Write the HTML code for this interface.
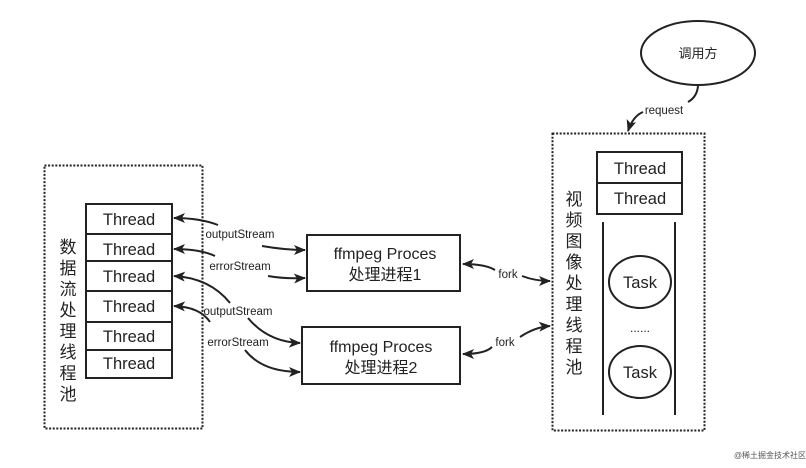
<!DOCTYPE html>
<html><head><meta charset="utf-8"><style>
html,body{margin:0;padding:0;background:#fff;}
svg{display:block;font-family:"Liberation Sans","Noto Sans CJK SC",sans-serif;}
</style></head><body>
<svg width="806" height="468" viewBox="0 0 806 468" xmlns="http://www.w3.org/2000/svg">
<defs>
<marker id="a" markerWidth="12" markerHeight="10" refX="11" refY="5" orient="auto" markerUnits="userSpaceOnUse">
<path d="M0,0 L12,5 L0,10 L3,5 Z" fill="#222"/></marker>
</defs>
<rect width="806" height="468" fill="#fff"/>
<rect x="44.5" y="165.5" width="158" height="263" fill="none" stroke="#222" stroke-width="2" stroke-dasharray="2,1.6"/>
<g fill="#fff" stroke="#222" stroke-width="2">
<rect x="86" y="204" width="86" height="30"/>
<rect x="86" y="234" width="86" height="27"/>
<rect x="86" y="261" width="86" height="30"/>
<rect x="86" y="291" width="86" height="31"/>
<rect x="86" y="322" width="86" height="28"/>
<rect x="86" y="350" width="86" height="28"/>
</g>
<g font-size="16.5" fill="#222" text-anchor="middle">
<text x="129" y="225">Thread</text>
<text x="129" y="255">Thread</text>
<text x="129" y="282">Thread</text>
<text x="129" y="312">Thread</text>
<text x="129" y="342">Thread</text>
<text x="129" y="369">Thread</text>
</g>
<g font-size="17" fill="#222" text-anchor="middle">
<text x="68" y="253">数</text><text x="68" y="274">据</text><text x="68" y="295">流</text><text x="68" y="316">处</text><text x="68" y="337">理</text><text x="68" y="358">线</text><text x="68" y="379">程</text><text x="68" y="400">池</text>
</g>
<rect x="307" y="235" width="153" height="56" fill="#fff" stroke="#222" stroke-width="2"/>
<rect x="302" y="327" width="158" height="57" fill="#fff" stroke="#222" stroke-width="2"/>
<g font-size="16" fill="#222" text-anchor="middle">
<text x="385" y="259">ffmpeg Proces</text><text x="385" y="280">处理进程1</text>
<text x="381" y="352">ffmpeg Proces</text><text x="381" y="373">处理进程2</text>
</g>
<g fill="none" stroke="#222" stroke-width="2">
<path d="M218,225 Q200,218 174,218" marker-end="url(#a)"/>
<path d="M262,246 Q285,250 305,250" marker-end="url(#a)"/>
<path d="M215,256 Q200,249 174,249" marker-end="url(#a)"/>
<path d="M268,276 Q285,279 305,278" marker-end="url(#a)"/>
<path d="M230,303 Q210,278 174,276" marker-end="url(#a)"/>
<path d="M248,318 Q268,342 300,343" marker-end="url(#a)"/>
<path d="M210,322 Q200,307 174,306" marker-end="url(#a)"/>
<path d="M245,350 Q262,372 300,372" marker-end="url(#a)"/>
</g>
<g font-size="11.5" fill="#222" text-anchor="middle">
<text x="240" y="238">outputStream</text>
<text x="240" y="270">errorStream</text>
<text x="238" y="315">outputStream</text>
<text x="238" y="346">errorStream</text>
</g>
<rect x="552.5" y="133.5" width="152" height="297" fill="none" stroke="#222" stroke-width="2" stroke-dasharray="2,1.6"/>
<rect x="597" y="152" width="85" height="31" fill="#fff" stroke="#222" stroke-width="2"/>
<rect x="597" y="183" width="85" height="31" fill="#fff" stroke="#222" stroke-width="2"/>
<g font-size="16.5" fill="#222" text-anchor="middle">
<text x="640" y="174">Thread</text><text x="640" y="204">Thread</text>
</g>
<line x1="603" y1="222" x2="603" y2="415" stroke="#222" stroke-width="2"/>
<line x1="675" y1="222" x2="675" y2="415" stroke="#222" stroke-width="2"/>
<ellipse cx="640" cy="282" rx="31" ry="26" fill="none" stroke="#222" stroke-width="2"/>
<ellipse cx="640" cy="372" rx="31" ry="26" fill="none" stroke="#222" stroke-width="2"/>
<g font-size="16.5" fill="#222" text-anchor="middle">
<text x="640" y="288">Task</text><text x="640" y="378">Task</text>
<text x="640" y="332" font-size="12">......</text>
</g>
<g font-size="17" fill="#222" text-anchor="middle">
<text x="574" y="205">视</text><text x="574" y="226">频</text><text x="574" y="247">图</text><text x="574" y="268">像</text><text x="574" y="289">处</text><text x="574" y="310">理</text><text x="574" y="331">线</text><text x="574" y="352">程</text><text x="574" y="373">池</text>
</g>
<g fill="none" stroke="#222" stroke-width="2">
<path d="M495,270 Q485,264 463,264" marker-end="url(#a)"/>
<path d="M522,276 Q535,281 550,281" marker-end="url(#a)"/>
<path d="M492,347 Q485,354 463,354" marker-end="url(#a)"/>
<path d="M520,337 Q535,327 550,326" marker-end="url(#a)"/>
</g>
<g font-size="11.5" fill="#222" text-anchor="middle">
<text x="508" y="278">fork</text><text x="505" y="346">fork</text>
</g>
<ellipse cx="698" cy="53" rx="57" ry="32" fill="#fff" stroke="#222" stroke-width="2"/>
<text x="698" y="58" font-size="13" fill="#222" text-anchor="middle">调用方</text>
<path d="M698,86 Q697,97 688,102" fill="none" stroke="#222" stroke-width="2"/>
<path d="M643,112 Q633,116 628,131" fill="none" stroke="#222" stroke-width="2" marker-end="url(#a)"/>
<text x="664" y="114" font-size="11.5" fill="#222" text-anchor="middle">request</text>
<text x="770" y="458" font-size="8" fill="#555" text-anchor="middle">@稀土掘金技术社区</text>
</svg>
</body></html>
